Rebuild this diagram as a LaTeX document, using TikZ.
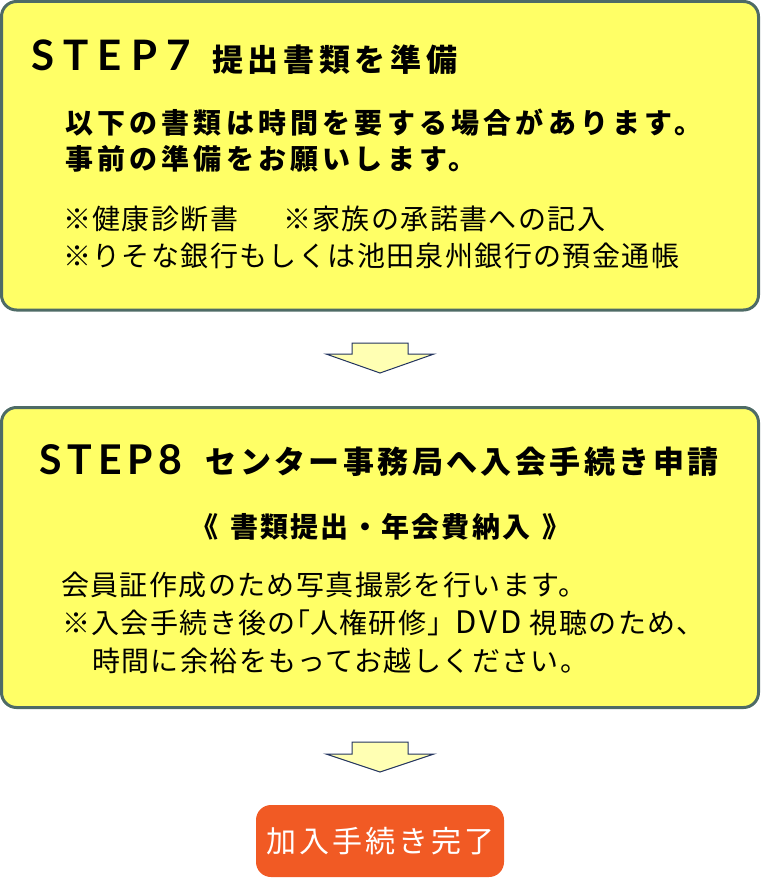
\documentclass[tikz,border=0pt]{standalone}
\usepackage{fontspec}
\setmainfont{Noto Sans CJK JP}
\newfontfamily\stepfont{Lato}
\usetikzlibrary{positioning}

\definecolor{boxfill}{HTML}{FFFF66}
\definecolor{boxline}{HTML}{4E6B66}
\definecolor{arrowfill}{HTML}{FFFFB3}
\definecolor{arrowline}{HTML}{22335F}
\definecolor{donefill}{HTML}{F15A24}

\newcommand{\fnt}[2]{\fontsize{#1}{#1}\selectfont\addfontfeatures{LetterSpace=#2}}
\newcommand{\halfkakko}[1]{{\addfontfeatures{CharacterWidth=AlternateHalf}#1}}

\tikzset{
	stepbox/.style={draw=boxline, fill=boxfill, line width=3pt, rounded corners=15pt, minimum width=757pt},
	txt/.style={anchor=west, inner sep=0pt},
	blockarrow/.style={draw=arrowline, fill=arrowfill, line width=1pt, line join=miter},
	donebox/.style={fill=donefill, rounded corners=15pt, minimum width=248pt, minimum height=72pt, text=white}
}

\begin{document}
\begin{tikzpicture}[x=1pt, y=-1pt]
	\useasboundingbox (0,0) rectangle (760,880);
	% step 7
	\node[stepbox, minimum height=308.5pt] (step7) at (380,155.75) {};
	\node[txt, font=\stepfont\bfseries\fnt{42}{22}] (step7no) at (31,55.5) {STEP7};
	\node[txt, font=\bfseries\fnt{31}{15}] (step7title) at (212,59.5) {提出書類を準備};
	\node[txt, font=\bfseries\fnt{28}{15}] (req1) at (65,122.5) {以下の書類は時間を要する場合があります。};
	\node[txt, font=\bfseries\fnt{28}{15}] (req2) at (65,159) {事前の準備をお願いします。};
	\node[txt, font=\fnt{28}{5}] (doc1) at (63,219) {※健康診断書\hspace{45pt}※家族の承諾書への記入};
	\node[txt, font=\fnt{28}{5}] (doc2) at (63,255.5) {※りそな銀行もしくは池田泉州銀行の預金通帳};
	% arrow
	\coordinate[below=31.5pt of step7] (arr1);
	\draw[blockarrow] (arr1) ++(-28,0) -- ++(56,0) -- ++(0,11) -- ++(26,0) -- ++(-54,19) -- ++(-54,-19) -- ++(26,0) -- cycle;
	% step 8
	\node[stepbox, minimum height=300pt] (step8) at (380,557.5) {};
	\node[txt, font=\stepfont\bfseries\fnt{41}{14}] (step8no) at (39.5,460) {STEP8};
	\node[txt, font=\bfseries\fnt{31}{11}] (step8title) at (205.5,461.5) {センター事務局へ入会手続き申請};
	\node[txt, font=\bfseries\fnt{28}{8}] (fees) at (190,527) {《\hspace{12pt}書類提出・年会費納入\hspace{12pt}》};
	\node[txt, font=\fnt{28}{5}] (note1) at (61,584.5) {会員証作成のため写真撮影を行います。};
	\node[txt, font=\fnt{28}{5}] (note2) at (62,622.5) {※入会手続き後の\halfkakko{「}人権研修」{\fontsize{31}{31}\selectfont\addfontfeatures{LetterSpace=10}DVD}\hspace{8pt}視聴のため、};
	\node[txt, font=\fnt{28}{5}] (note3) at (92,661) {時間に余裕をもってお越しください。};
	% arrow
	\coordinate[below=33pt of step8] (arr2);
	\draw[blockarrow] (arr2) ++(-28,0) -- ++(56,0) -- ++(0,12) -- ++(26,0) -- ++(-54,18) -- ++(-54,-18) -- ++(26,0) -- cycle;
	% done
	\node[donebox, font=\fnt{30}{10}] (done) at (380,841) {加入手続き完了};
\end{tikzpicture}
\end{document}
